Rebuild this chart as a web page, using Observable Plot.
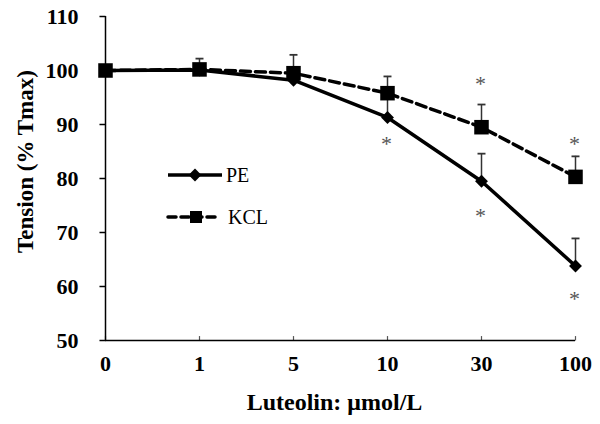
<!DOCTYPE html>
<html>
<head>
<meta charset="utf-8">
<script src="https://cdn.jsdelivr.net/npm/d3@7"></script>
<script src="https://cdn.jsdelivr.net/npm/@observablehq/plot@0.6"></script>
<style>
  html, body { margin: 0; padding: 0; background: #fff; }
  #wrap { position: relative; width: 600px; height: 424px; }
  #legend { position: absolute; left: 166px; top: 158px; }
</style>
</head>
<body>
<div id="wrap"></div>
<script>
const xLabels = ["0", "1", "5", "10", "30", "100"];
const yTicks = [50, 60, 70, 80, 90, 100, 110];
const peValues = [100, 100.1, 98.2, 91.3, 79.5, 63.8];
const kclValues = [100, 100.2, 99.5, 95.8, 89.5, 80.3];
const peUpper = [null, null, null, 95.0, 84.6, 68.9];
const kclUpper = [null, 102.2, 102.9, 98.9, 93.7, 84.1];
const starX = ["10", "30", "30", "100", "100"];
const starY = [86.9, 98.0, 73.7, 86.9, 58.2];
const seriesNames = ["PE", "KCL"];
const xTitle = "Luteolin: μmol/L";
const yTitle = "Tension (% Tmax)";

const pe = xLabels.map((x, i) => ({x, y: peValues[i], up: peUpper[i]}));
const kcl = xLabels.map((x, i) => ({x, y: kclValues[i], up: kclUpper[i]}));
const errs = [...pe, ...kcl].filter(d => d.up != null);
const stars = starX.map((x, i) => ({x, y: starY[i]}));

const capSymbol = {
  draw(ctx, size) { const w = Math.sqrt(size) / 2; ctx.moveTo(-w, 0); ctx.lineTo(w, 0); }
};
const upTickSymbol = {
  draw(ctx, size) { const h = Math.sqrt(size); ctx.moveTo(0, 0); ctx.lineTo(0, -h); }
};
const leftTickSymbol = {
  draw(ctx, size) { const w = Math.sqrt(size); ctx.moveTo(0, 0); ctx.lineTo(-w, 0); }
};

const serif = "'Liberation Serif', 'Times New Roman', serif";

const chart = Plot.plot({
  width: 600,
  height: 424,
  marginLeft: 105,
  marginRight: 25,
  marginTop: 16,
  marginBottom: 84,
  style: {fontFamily: serif, fontSize: "22px", fontWeight: "bold", color: "#000", background: "#fff"},
  x: {type: "point", domain: xLabels, padding: 0, label: null},
  y: {domain: [50, 110], ticks: yTicks, label: null},
  marks: [
    Plot.axisY({ticks: yTicks, tickSize: 0, label: null, dx: -18}),
    Plot.axisX({tickSize: 0, label: null, dy: 6}),
    Plot.dot(yTicks, {x: () => xLabels[0], y: d => d, symbol: leftTickSymbol, r: 3.4, stroke: "#000", strokeWidth: 1.5, fill: "none"}),
    Plot.dot(xLabels, {x: d => d, y: () => yTicks[0], symbol: upTickSymbol, r: 2.5, stroke: "#555", strokeWidth: 1.2, fill: "none"}),
    Plot.ruleX([xLabels[0]], {stroke: "#000", strokeWidth: 1.5}),
    Plot.ruleY([yTicks[0]], {stroke: "#000", strokeWidth: 1.5}),
    Plot.ruleX(errs, {x: "x", y1: "y", y2: "up", stroke: "#333", strokeWidth: 1.5}),
    Plot.dot(errs, {x: "x", y: "up", symbol: capSymbol, r: 4.5, stroke: "#333", strokeWidth: 1.8, fill: "none"}),
    Plot.line(pe, {x: "x", y: "y", stroke: "#000", strokeWidth: 3.5}),
    Plot.line(kcl, {x: "x", y: "y", stroke: "#000", strokeWidth: 3.5, strokeDasharray: "10,5"}),
    Plot.dot(pe, {x: "x", y: "y", symbol: "diamond2", r: 5.8, fill: "#000", stroke: "none"}),
    Plot.dot(kcl, {x: "x", y: "y", symbol: "square", r: 8.2, fill: "#000", stroke: "none"}),
    Plot.text(stars, {x: "x", y: "y", text: () => "*", fontSize: 22, fontWeight: "normal", fill: "#555", dy: 3, dx: -1}),
    Plot.text([xTitle], {frameAnchor: "bottom", text: d => d, dy: 62, dx: -6, fontSize: 24, fontWeight: "bold", lineAnchor: "middle"}),
    Plot.text([yTitle], {frameAnchor: "left", textAnchor: "middle", lineAnchor: "middle", text: d => d, rotate: -90, dx: -80, dy: -17, fontSize: 23, fontWeight: "bold"})
  ]
});

const wrap = document.getElementById("wrap");
wrap.appendChild(chart);

// Legend overlay
const lg = d3.select(wrap).append("svg").attr("id", "legend")
  .attr("width", 110).attr("height", 80)
  .style("font-family", serif);
const rowY = [17, 59];
// PE row
lg.append("line").attr("x1", 2).attr("x2", 56).attr("y1", rowY[0]).attr("y2", rowY[0])
  .attr("stroke", "#000").attr("stroke-width", 3.5);
lg.append("path").attr("d", d3.symbol(d3.symbolDiamond2, 5.8 * 5.8 * Math.PI)())
  .attr("transform", `translate(29,${rowY[0]})`).attr("fill", "#000");
lg.append("text").attr("x", 60).attr("y", rowY[0]).attr("dy", "0.35em")
  .attr("font-size", 20).text(seriesNames[0]);
// KCL row
lg.append("line").attr("x1", 2).attr("x2", 50).attr("y1", rowY[1]).attr("y2", rowY[1])
  .attr("stroke", "#000").attr("stroke-width", 3.5).attr("stroke-dasharray", "8,5")
  .attr("stroke-linecap", "round");
lg.append("path").attr("d", d3.symbol(d3.symbolSquare, 6.8 * 6.8 * Math.PI)())
  .attr("transform", `translate(30,${rowY[1]})`).attr("fill", "#000");
lg.append("text").attr("x", 62).attr("y", rowY[1]).attr("dy", "0.35em")
  .attr("font-size", 20).text(seriesNames[1]);
</script>
</body>
</html>
